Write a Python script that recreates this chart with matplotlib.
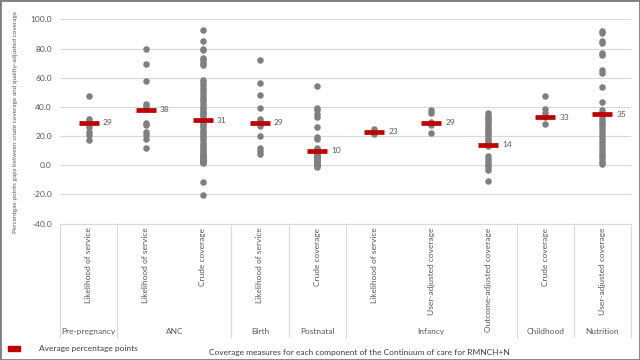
import matplotlib
matplotlib.use("Agg")
import matplotlib.pyplot as plt
from matplotlib.patches import Patch

plt.rcParams['font.family'] = ['Lato', 'DejaVu Sans']

# categories (inner level) and their groups (outer level)
measures = ["Likelihood of service", "Likelihood of service", "Crude coverage",
            "Likelihood of service", "Crude coverage", "Likelihood of service",
            "User-adjusted coverage", "Outcome-adjusted coverage",
            "Crude coverage", "User-adjusted coverage"]
groups = ["Pre-pregnancy", "ANC", "Birth", "Postnatal", "Infancy", "Childhood", "Nutrition"]
group_sizes = [1, 2, 1, 1, 3, 1, 1]

# percentage point gaps per measure
pre_lik = [47.5, 31.5, 29.5, 26, 22.5, 21, 17]
anc_lik = [79.5, 69.5, 57.5, 42, 40.5, 29, 27.5, 23, 21, 18, 11.5]
anc_crude = [92.5, 85, 80, 79, 73.5, 72, 70, 68.5, 58.5, 57, 55, 53, 51, 49, 47, 45.5,
             44, 42, 40, 38.5, 37, 36, 35, 33.5, 32, 30.5, 29, 27.5, 26, 24.5, 23, 21.5,
             20, 18.5, 17, 15.5, 14, 12.5, 11, 10, 9, 8, 7, 6.5, 6, 5.5, 5, 4.5, 4,
             3.5, 3, 2.5, 2, 1.5, -11.5, -20.5]
birth_lik = [72, 56.5, 48.5, 39, 32, 30.5, 27, 20, 12, 10, 8]
post_crude = [54.5, 39, 38, 35, 33, 26, 19.5, 18, 12, 11, 10, 9, 8, 7, 6.5, 6, 5.5, 5,
              4.5, 4, 3.5, 3, 2.5, 2, 1.5, 1, 0.5, 0, -0.5, -1]
inf_lik = [25, 23.5, 22.5, 21.5]
inf_user = [38, 36, 30, 27.5, 22]
inf_outcome = [35.5, 34, 32.5, 31, 29.5, 28, 26.5, 25, 23.5, 22, 20.5, 19, 17.5, 16,
               14.5, 13, 6, 4, 2, 0, -1.5, -3.5, -10.5]
child_crude = [47.5, 38.5, 36, 33, 28.5]
nutr_user = [92, 90.5, 85.5, 84, 77, 75.5, 65, 63.5, 53.5, 43.5, 38, 36, 34, 32, 30,
             28, 26, 24, 22, 20, 18, 16, 14, 12, 10, 8, 6, 4, 2, 1]
series = [pre_lik, anc_lik, anc_crude, birth_lik, post_crude,
          inf_lik, inf_user, inf_outcome, child_crude, nutr_user]

averages = [29, 38, 31, 29, 10, 23, 29, 14, 33, 35]
yticks = [-40, -20, 0, 20, 40, 60, 80, 100]

GRAY_TXT = '#595959'
GRID = '#d9d9d9'

fig = plt.figure(figsize=(6.4, 3.6), dpi=100)
ax = fig.add_axes([0.094, 0.379, 0.892, 0.567])

for i, vals in enumerate(series):
    ax.scatter([i] * len(vals), vals, s=22, color='#7f7f7f', zorder=3, linewidths=0)

ax.plot(range(len(averages)), averages, ls='none', marker='_', ms=14.5, mew=3.4,
        color='#c00000', zorder=4)
for i, a in enumerate(averages):
    ax.annotate(str(a), (i, a), xytext=(14, 0), textcoords='offset pixels',
                ha='left', va='center', fontsize=6, color=GRAY_TXT)

ax.set_xlim(-0.5, len(series) - 0.5)
ax.set_ylim(-40, 100)
ax.set_yticks(yticks)
ax.set_yticklabels(["%.1f" % t for t in yticks], fontsize=6, color=GRAY_TXT)
ax.tick_params(axis='y', length=0, pad=6)
ax.set_xticks([])
ax.grid(axis='y', color=GRID, lw=0.8)
ax.set_axisbelow(True)
for s in ['top', 'right', 'left']:
    ax.spines[s].set_visible(False)
ax.spines['bottom'].set_color(GRID)

ax.set_ylabel("Percentgae points gaps between crude coverage and quality-adjusted coverage",
              fontsize=4.6, color=GRAY_TXT)
ax.yaxis.set_label_coords(-0.0735, 0.5)

# multi-level category axis
tr = ax.get_xaxis_transform()
for i, m in enumerate(measures):
    ax.text(i, -0.02, m, transform=tr, rotation=90, ha='center', va='top',
            fontsize=6, color=GRAY_TXT)

start = 0
bounds = [-0.5]
for g, n in zip(groups, group_sizes):
    ax.text(start + (n - 1) / 2, -0.53, g, transform=tr, ha='center', va='center',
            fontsize=6, color=GRAY_TXT)
    start += n
    bounds.append(start - 0.5)
for b in bounds:
    ax.plot([b, b], [0, -0.555], transform=tr, color=GRID, lw=0.8, clip_on=False)

fig.text(0.561, 0.02, "Coverage measures for each component of the Continuum of care for RMNCH+N",
         ha='center', va='center', fontsize=6, color='#404040')

fig.legend(handles=[Patch(facecolor='#c00000', edgecolor='#c00000')],
           labels=["Average percentage points"], loc='lower left',
           bbox_to_anchor=(0.0, 0.0), frameon=False, fontsize=6,
           handlelength=1.5, handleheight=0.6, handletextpad=2.3,
           labelcolor='#404040')

# outer frame
fig.patches.append(plt.Rectangle((0, 0), 1, 1, transform=fig.transFigure,
                                 fill=False, edgecolor='#7f7f7f', lw=2))

fig.savefig("out.png", dpi=100)
